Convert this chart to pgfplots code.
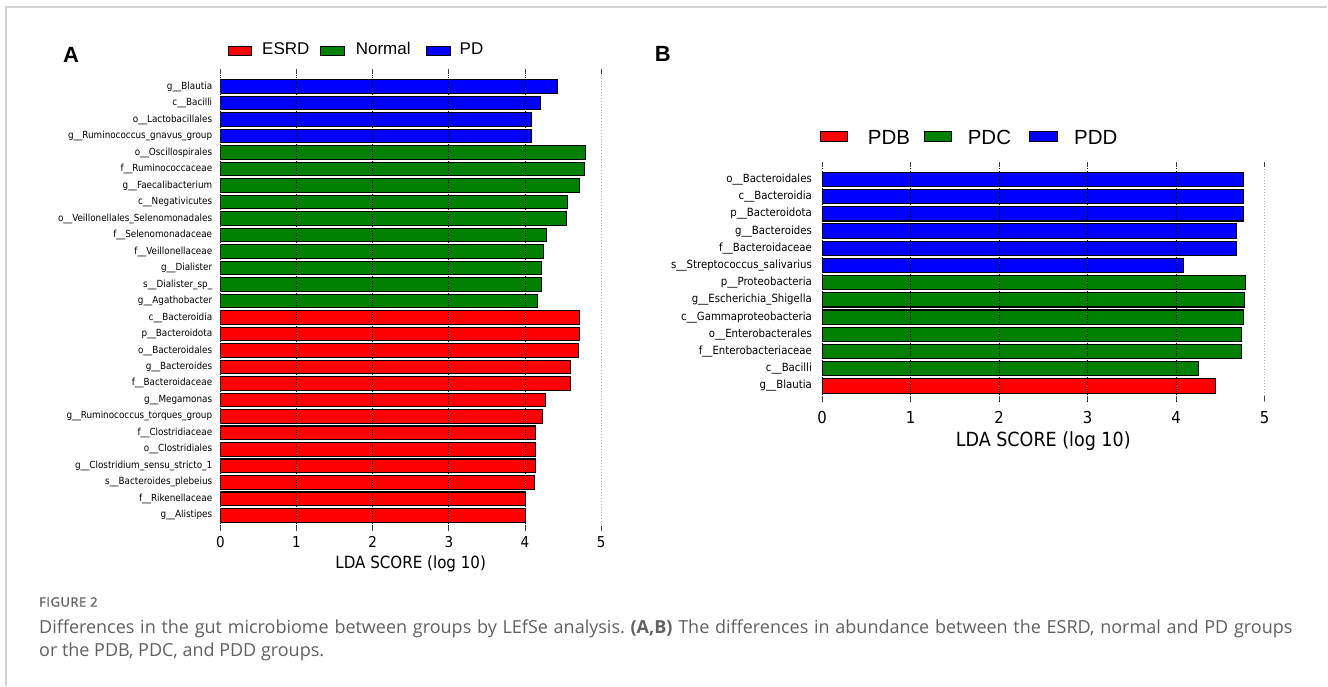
\documentclass[border=0pt]{standalone}
\usepackage{fontspec}
\usepackage{pgfplots}
\pgfplotsset{compat=1.18}
\newfontfamily\labfont{DejaVu Sans Condensed}
\newfontfamily\legfont{Liberation Sans}
\newfontfamily\capfont{Open Sans}
\newfontfamily\figfont[LetterSpace=4, FakeBold=1.2]{Open Sans}
\definecolor{cred}{HTML}{FF0000}
\definecolor{cgreen}{HTML}{008000}
\definecolor{cblue}{HTML}{0000FF}
\definecolor{framegray}{HTML}{D2D2D2}
\definecolor{captext}{HTML}{616161}
\newcommand\fs[1]{\fontsize{#1}{#1}\selectfont}

\pgfplotsset{
  lefse/.style={
    scale only axis, xbar,
    xmin=0, xmax=5,
    xtick={0,1,2,3,4}, xticklabels={0,1,2,3,4},
    extra x ticks={5}, extra x tick labels={5},
    extra x tick style={grid style={black!30, dotted, line width=0.9pt}},
    xtick pos=both, xticklabel pos=lower, tick align=inside,
    major tick length=5pt,
    tick style={black!75, line width=0.8pt},
    xmajorgrids, grid style={black, dotted, line width=0.9pt},
    ytick style={draw=none},
    axis line style={draw=none},
    axis on top,
  },
  bars/.style={fill=#1, draw=black, line width=1.1pt, bar shift=0},
}

\begin{document}
\begin{tikzpicture}[x=1pt, y=1pt]
\fill[white] (0pt,0pt) rectangle (1328pt,686pt);
\draw[framegray, line width=1.6pt] (6.3pt,0pt) -- (6.3pt,678.7pt) -- (1328pt,678.7pt);

% ---- panel A
\begin{axis}[lefse, at={(220.5pt,155pt)}, anchor=south west,
  width=381pt, height=462pt,
  ymin=-0.93, ymax=27.07, bar width=0.83,
  ytick={0,...,26},
  yticklabels={g\_\_Alistipes, f\_\_Rikenellaceae, s\_\_Bacteroides\_plebeius,
    g\_\_Clostridium\_sensu\_stricto\_1, o\_\_Clostridiales, f\_\_Clostridiaceae,
    g\_\_Ruminococcus\_torques\_group, g\_\_Megamonas, f\_\_Bacteroidaceae,
    g\_\_Bacteroides, o\_\_Bacteroidales, p\_\_Bacteroidota, c\_\_Bacteroidia,
    g\_\_Agathobacter, s\_\_Dialister\_sp\_, g\_\_Dialister, f\_\_Veillonellaceae,
    f\_\_Selenomonadaceae, o\_\_Veillonellales\_Selenomonadales, c\_\_Negativicutes,
    g\_\_Faecalibacterium, f\_\_Ruminococcaceae, o\_\_Oscillospirales,
    g\_\_Ruminococcus\_gnavus\_group, o\_\_Lactobacillales, c\_\_Bacilli, g\_\_Blautia},
  yticklabel style={font=\labfont\fs{9.8}, inner sep=0pt, xshift=-8pt},
  xticklabel style={font=\labfont\fs{15}, inner sep=0pt, yshift=-5.5pt},
  xlabel={LDA SCORE (log 10)},
  xlabel style={font=\labfont\fs{16.8}, at={(axis description cs:0.5,0)}, anchor=north, inner sep=0pt, yshift=-24.5pt},
]
% ESRD
\addplot[bars=cred] coordinates {(4.01,0) (4.01,1) (4.12,2) (4.14,3) (4.14,4) (4.14,5)
  (4.23,6) (4.27,7) (4.60,8) (4.60,9) (4.70,10) (4.71,11) (4.71,12)};
% Normal
\addplot[bars=cgreen] coordinates {(4.17,13) (4.22,14) (4.22,15) (4.24,16) (4.28,17)
  (4.54,18) (4.56,19) (4.71,20) (4.78,21) (4.80,22)};
% PD
\addplot[bars=cblue] coordinates {(4.08,23) (4.09,24) (4.20,25) (4.43,26)};
\end{axis}

% ---- panel B
\begin{axis}[lefse, at={(822.5pt,284.3pt)}, anchor=south west,
  width=442.8pt, height=239.4pt,
  ymin=-0.9, ymax=13.0, bar width=0.83,
  ytick={0,...,12},
  yticklabels={g\_\_Blautia, c\_\_Bacilli, f\_\_Enterobacteriaceae, o\_\_Enterobacterales,
    c\_\_Gammaproteobacteria, g\_\_Escherichia\_Shigella, p\_\_Proteobacteria,
    s\_\_Streptococcus\_salivarius, f\_\_Bacteroidaceae, g\_\_Bacteroides,
    p\_\_Bacteroidota, c\_\_Bacteroidia, o\_\_Bacteroidales},
  yticklabel style={font=\labfont\fs{11.3}, inner sep=0pt, xshift=-10pt},
  xticklabel style={font=\labfont\fs{16.5}, inner sep=0pt, yshift=-10pt},
  xlabel={LDA SCORE (log 10)},
  xlabel style={font=\labfont\fs{19.5}, at={(axis description cs:0.5,0)}, anchor=north, inner sep=0pt, yshift=-30pt},
]
% PDB
\addplot[bars=cred] coordinates {(4.45,0)};
% PDC
\addplot[bars=cgreen] coordinates {(4.25,1) (4.74,2) (4.74,3) (4.76,4) (4.77,5) (4.78,6)};
% PDD
\addplot[bars=cblue] coordinates {(4.08,7) (4.68,8) (4.68,9) (4.76,10) (4.76,11) (4.76,12)};
\end{axis}

% legends
\begin{scope}[line width=0.8pt]
\filldraw[fill=cred, draw=black] (228.5pt,631pt) rectangle (251.7pt,639.3pt);
\node[anchor=base west, inner sep=0pt, font=\legfont\fs{17}] at (262pt,631pt) {ESRD};
\filldraw[fill=cgreen, draw=black] (321pt,631pt) rectangle (345pt,639.3pt);
\node[anchor=base west, inner sep=0pt, font=\legfont\fs{17}] at (355.6pt,631pt) {Normal};
\filldraw[fill=cblue, draw=black] (427pt,631pt) rectangle (451pt,639.3pt);
\node[anchor=base west, inner sep=0pt, font=\legfont\fs{17}] at (459.6pt,631pt) {PD};

\filldraw[fill=cred, draw=black] (821.2pt,544.3pt) rectangle (847.5pt,554.3pt);
\node[anchor=base west, inner sep=0pt, font=\legfont\fs{20.5}] at (868pt,541pt) {PDB};
\filldraw[fill=cgreen, draw=black] (925.2pt,544.3pt) rectangle (952.4pt,554.3pt);
\node[anchor=base west, inner sep=0pt, font=\legfont\fs{20.5}] at (968pt,541pt) {PDC};
\filldraw[fill=cblue, draw=black] (1030.5pt,544.3pt) rectangle (1057.7pt,554.3pt);
\node[anchor=base west, inner sep=0pt, font=\legfont\fs{20.5}] at (1074.4pt,541pt) {PDD};
\end{scope}

% panel letters
\node[anchor=base west, inner sep=0pt, font=\legfont\bfseries\fs{22}] at (63pt,623.3pt) {A};
\node[anchor=base west, inner sep=0pt, font=\legfont\bfseries\fs{22}] at (655pt,624pt) {B};

% caption (first line justified)
\node[anchor=base west, inner sep=0pt, font=\figfont\fs{13}, text=captext] at (39pt,79pt) {FIGURE 2};
\node[anchor=base west, inner sep=0pt, font=\capfont\fs{18}, text=captext] at (39pt,52pt)
  {\makebox[1254pt][s]{Differences in the gut microbiome between groups by LEfSe analysis.\ \textbf{(A,B)} The differences in abundance between the ESRD, normal and PD groups}};
\node[anchor=base west, inner sep=0pt, font=\capfont\fs{18}, text=captext] at (39pt,29pt)
  {or the PDB, PDC, and PDD groups.};
\end{tikzpicture}
\end{document}
